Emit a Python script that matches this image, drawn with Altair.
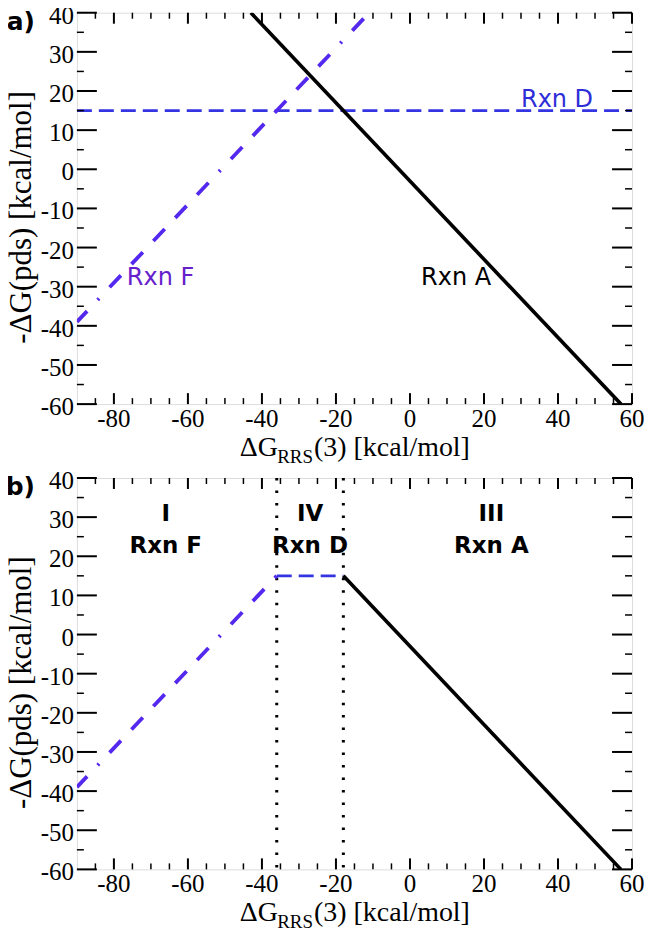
import altair as alt
import pandas as pd

# ---------------- data ----------------
X_DOMAIN = [-90, 60]
Y_DOMAIN = [-60, 40]
x_major = [-80, -60, -40, -20, 0, 20, 40, 60]
x_labels = ["-80", "-60", "-40", "-20", "0", "20", "40", "60"]
x_minor = [v for v in range(-85, 60, 5) if v % 20 != 0]
y_major = [-60, -50, -40, -30, -20, -10, 0, 10, 20, 30, 40]
y_labels = ["-60", "-50", "-40", "-30", "-20", "-10", "0", "10", "20", "30", "40"]
y_minor = [v for v in range(-55, 40, 5) if v % 10 != 0]

# panel a lines
a_A_x = [-43, 57]
a_A_y = [40, -60]
a_D_x = [-90, 60]
a_D_y = [15, 15]
a_F_x = [-90, -11]
a_F_y = [-39, 40]

# panel b lines
b_A_x = [-18, 57]
b_A_y = [15, -60]
b_D_x = [-36, -18]
b_D_y = [15, 15]
b_F_x = [-90, -36]
b_F_y = [-39, 15]
b_bounds = [-36, -18]

# labels
a_lab_text = ["Rxn D", "Rxn F", "Rxn A"]
a_lab_x = [30, -76.5, 3]
a_lab_y = [16, -29.6, -29.6]

b_roman = ["I", "IV", "III"]
b_rxn = ["Rxn F", "Rxn D", "Rxn A"]
b_lab_x = [-66, -27, 22]
b_roman_y = [29, 29, 29]
b_rxn_y = [20.8, 20.8, 20.8]

Y_TITLE = "-\u0394G(pds) [kcal/mol]"

W = 556
H = 392

BLACK = "#000000"
D_COLOR = "#3434e2"
F_COLOR = "#5428ee"
D_LABEL = "#2e2ed8"
F_LABEL = "#6620cc"

SERIF = "Liberation Serif"
SANS = "DejaVu Sans"
LAB_SIZE = 25

xscale = alt.Scale(domain=X_DOMAIN, nice=False, zero=False)
yscale = alt.Scale(domain=Y_DOMAIN, nice=False, zero=False)


def X(f):
    return alt.X(f"{f}:Q", scale=xscale, axis=None)


def Y(f):
    return alt.Y(f"{f}:Q", scale=yscale, axis=None)


def line(xs, ys, color, width, dash=None, dashoffset=None):
    df = pd.DataFrame({"x": xs, "y": ys})
    kw = dict(color=color, strokeWidth=width, clip=True)
    if dash is not None:
        kw["strokeDash"] = dash
    if dashoffset is not None:
        kw["strokeDashOffset"] = dashoffset
    return alt.Chart(df).mark_line(**kw).encode(x=X("x"), y=Y("y"))


def ticks():
    layers = []
    for vals, ln, sw in [(x_major, 11, 2), (x_minor, 6, 1.5)]:
        d = pd.DataFrame({"v": vals})
        layers.append(alt.Chart(d).mark_rule(color=BLACK, strokeWidth=sw).encode(
            x=X("v"), y=alt.value(0), y2=alt.value(ln)))
        layers.append(alt.Chart(d).mark_rule(color=BLACK, strokeWidth=sw).encode(
            x=X("v"), y=alt.value(H), y2=alt.value(H - ln)))
    for vals, ln, sw in [(y_major, 20, 2), (y_minor, 7, 1.5)]:
        d = pd.DataFrame({"v": vals})
        layers.append(alt.Chart(d).mark_rule(color=BLACK, strokeWidth=sw).encode(
            y=Y("v"), x=alt.value(0), x2=alt.value(ln)))
        layers.append(alt.Chart(d).mark_rule(color=BLACK, strokeWidth=sw).encode(
            y=Y("v"), x=alt.value(W), x2=alt.value(W - ln)))
    # tick labels
    xl = pd.DataFrame({"v": x_major, "t": x_labels})
    layers.append(alt.Chart(xl).mark_text(font=SERIF, fontSize=LAB_SIZE, color=BLACK,
                                          align="center", baseline="top").encode(
        x=X("v"), y=alt.value(H + 3), text="t:N"))
    yl = pd.DataFrame({"v": y_major, "t": y_labels})
    layers.append(alt.Chart(yl).mark_text(font=SERIF, fontSize=LAB_SIZE, color=BLACK,
                                          align="right", baseline="middle", dy=3).encode(
        y=Y("v"), x=alt.value(-3), text="t:N"))
    return layers


def titles():
    one = pd.DataFrame({"t": [0]})
    s_main = 28
    s_sub = 19
    w_dg = 1.334 * s_main
    w_sub = 1.89 * s_sub
    w_rest = 5.582 * s_main
    start = W / 2 - (w_dg + w_sub + w_rest) / 2
    base = H + 52
    parts = [
        ("\u0394G", start, base, s_main),
        ("RRS", start + w_dg, base + 7, s_sub),
        ("(3) [kcal/mol]", start + w_dg + w_sub + 1, base, s_main),
    ]
    out = []
    for txt, px, py, fs in parts:
        out.append(alt.Chart(one).mark_text(text=txt, font=SERIF, fontSize=fs, color=BLACK,
                                            align="left", baseline="alphabetic").encode(
            x=alt.value(px), y=alt.value(py)))
    out.append(alt.Chart(one).mark_text(text=Y_TITLE, font=SERIF, fontSize=31, color=BLACK,
                                        align="center", baseline="alphabetic",
                                        angle=270).encode(
        x=alt.value(-46), y=alt.value(H / 2 + 9)))
    return out


def panel_label(txt):
    one = pd.DataFrame({"t": [0]})
    return alt.Chart(one).mark_text(text=txt, font=SANS, fontSize=25, fontWeight="bold",
                                    color=BLACK, align="right", baseline="alphabetic").encode(
        x=alt.value(-42), y=alt.value(17))


F_DASH = [2, 15.4, 16.5, 15.4, 16.5, 15.4, 16.5, 15.4, 16.5, 15.4, 16.5, 15.4]

# ---------- panel a ----------
a_labels = pd.DataFrame({"x": a_lab_x, "y": a_lab_y, "t": a_lab_text,
                         "c": [D_LABEL, F_LABEL, BLACK]})
a_text = alt.Chart(a_labels).mark_text(font=SANS, fontSize=24, align="left",
                                       baseline="alphabetic").encode(
    x=X("x"), y=Y("y"), text="t:N", color=alt.Color("c:N", scale=None))

panel_a = alt.layer(
    line(a_D_x, a_D_y, D_COLOR, 2.8, [15, 7]),
    line(a_F_x, a_F_y, F_COLOR, 3.8, F_DASH, 146.6),
    line(a_A_x, a_A_y, BLACK, 3.6),
    a_text,
    *ticks(),
    *titles(),
    panel_label("a)"),
).properties(width=W, height=H)

# ---------- panel b ----------
b_lab = pd.DataFrame({"x": b_lab_x, "yr": b_roman_y, "yx": b_rxn_y, "r": b_roman, "n": b_rxn})
b_roman_text = alt.Chart(b_lab).mark_text(font=SANS, fontSize=23, fontWeight="bold",
                                          color=BLACK, align="center",
                                          baseline="alphabetic").encode(
    x=X("x"), y=Y("yr"), text="r:N")
b_rxn_text = alt.Chart(b_lab).mark_text(font=SANS, fontSize=23, fontWeight="bold",
                                        color=BLACK, align="center",
                                        baseline="alphabetic").encode(
    x=X("x"), y=Y("yx"), text="n:N")
b_rules = alt.Chart(pd.DataFrame({"v": b_bounds})).mark_rule(
    color=BLACK, strokeWidth=3, strokeDash=[2.5, 10]).encode(x=X("v"))

panel_b = alt.layer(
    b_rules,
    line(b_F_x, b_F_y, F_COLOR, 3.8, F_DASH, 146.6),
    line(b_D_x, b_D_y, D_COLOR, 2.8, [15, 7]),
    line(b_A_x, b_A_y, BLACK, 3.6),
    b_roman_text,
    b_rxn_text,
    *ticks(),
    *titles(),
    panel_label("b)"),
).properties(width=W, height=H)

chart = alt.vconcat(panel_a, panel_b, spacing=0).properties(
    padding={"left": -3, "top": -6, "right": 0, "bottom": 0}
).configure_view(stroke=BLACK, strokeWidth=2, fill="white").configure(background="white")

chart.save("out.html", embed_options={"renderer": "svg", "actions": False})
